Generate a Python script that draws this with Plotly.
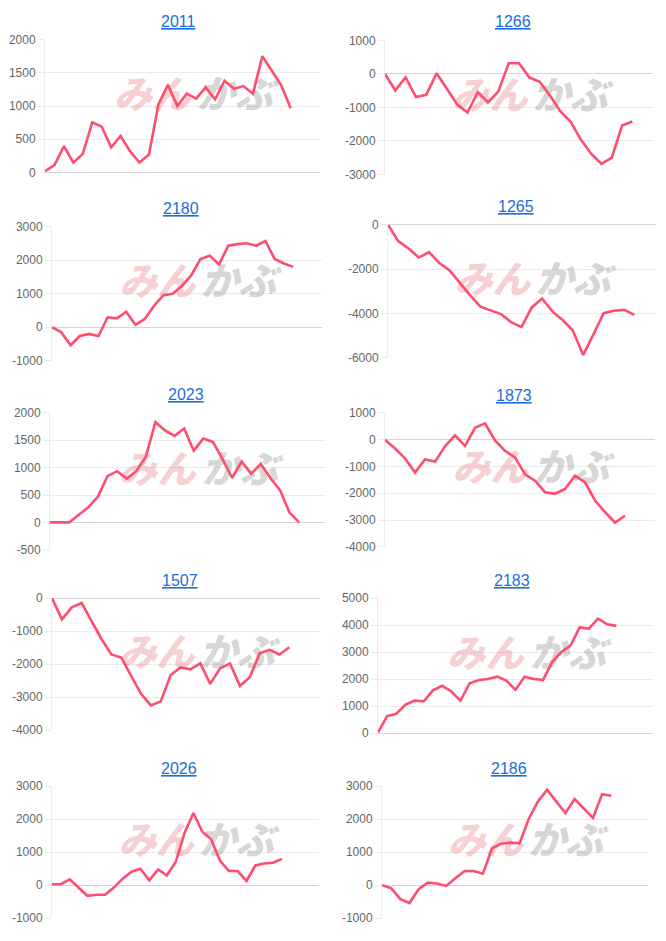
import plotly.graph_objects as go

# ---------------- data ----------------
titles = ["2011", "1266", "2180", "1265", "2023", "1873", "1507", "2183", "2026", "2186"]

s2011 = [20, 110, 395, 150, 280, 755, 690, 380, 550, 320, 150, 270, 1020, 1320, 1000, 1185,
         1110, 1280, 1100, 1380, 1260, 1300, 1185, 1750, 1530, 1310, 965]
s1266 = [0, -490, -100, -690, -620, 20, -440, -910, -1150, -540, -850, -520, 320, 320, -100,
         -230, -640, -1110, -1420, -1960, -2380, -2680, -2500, -1540, -1420]
s2180 = [0, -150, -540, -265, -200, -265, 295, 265, 460, 70, 245, 640, 955, 1000, 1230, 1545,
         2035, 2135, 1870, 2430, 2480, 2505, 2430, 2575, 2035, 1900, 1800]
s1265 = [0, -740, -1070, -1480, -1240, -1730, -2060, -2650, -3190, -3700, -3850, -4030, -4400,
         -4620, -3730, -3330, -3910, -4300, -4770, -5880, -4960, -3990, -3880, -3840, -4070]
s2023 = [0, 0, 0, 140, 275, 470, 845, 935, 800, 935, 1200, 1830, 1680, 1580, 1715, 1310, 1530,
         1470, 1160, 815, 1110, 890, 1070, 810, 590, 180, 0]
s1873 = [0, -330, -700, -1225, -735, -820, -245, 160, -230, 440, 610, -25, -415, -660, -1290,
         -1530, -1960, -2020, -1840, -1350, -1590, -2270, -2700, -3090, -2840]
s1507 = [0, -645, -280, -150, -695, -1240, -1710, -1800, -2360, -2900, -3250, -3130, -2330,
         -2100, -2160, -1980, -2600, -2130, -1980, -2660, -2400, -1670, -1570, -1710, -1490]
s2183 = [25, 630, 715, 1055, 1200, 1180, 1580, 1750, 1540, 1200, 1845, 1965, 2000, 2090, 1940,
         1600, 2090, 2000, 1965, 2630, 3000, 3240, 3910, 3870, 4235, 4030, 3970]
s2026 = [30, 30, 180, -70, -320, -290, -290, -70, 200, 410, 500, 150, 480, 300, 710, 1590, 2190,
         1620, 1390, 750, 430, 430, 130, 600, 660, 680, 800]
s2186 = [0, -90, -420, -540, -120, 80, 50, -20, 210, 430, 430, 350, 1120, 1260, 1290, 1270, 2010,
         2540, 2890, 2540, 2190, 2610, 2310, 2040, 2760, 2710]

series = [s2011, s1266, s2180, s1265, s2023, s1873, s1507, s2183, s2026, s2186]

y_min = [0, -3000, -1000, -6000, -500, -4000, -4000, 0, -1000, -1000]
y_max = [2000, 1000, 3000, 0, 2000, 1000, 0, 5000, 3000, 3000]
y_step = [500, 1000, 1000, 2000, 500, 1000, 1000, 1000, 1000, 1000]

# ---------------- layout (pixels) ----------------
W, H = 666, 941
x_extent = [29.1, 26.0, 29.1, 26.1, 28.7, 27.0, 27.1, 30.0, 30.2, 29.0]
boxes = [(45, 320, 33, 168), (385, 653, 34, 170), (52, 322, 223, 359), (388, 656, 221, 356),
         (50, 325, 412, 551), (385, 655, 412, 548), (52, 320, 600, 734), (378, 653, 600, 737),
         (52, 319, 791, 925), (382, 648, 791, 925)]
title_pos = [(178, 15), (513, 15), (181, 205), (516, 203), (186, 393), (514, 394),
             (180, 582), (512, 582), (179, 773), (509, 773)]

LINE = "#ff4d6d"
GRID = "#ebebeb"
FONT = "Liberation Sans, Arial, sans-serif"
wm_chars = ["み", "ん", "か", "ぶ"]
wm_colors = ["rgba(232,120,128,0.36)", "rgba(232,120,128,0.36)",
             "rgba(140,140,140,0.36)", "rgba(140,140,140,0.36)"]
wm_fx = [0.32, 0.46, 0.62, 0.76]
wm_fy = 0.56

fig = go.Figure()
layout = dict(width=W, height=H, margin=dict(l=0, r=0, t=0, b=0),
              paper_bgcolor="white", plot_bgcolor="white", showlegend=False,
              font=dict(family=FONT), annotations=[])

for i, vals in enumerate(series):
    k = "" if i == 0 else str(i + 1)
    xa, ya = "x" + k, "y" + k
    x0, x1, t0, t1 = boxes[i]
    xs = list(range(len(vals)))
    ext = x_extent[i]
    lo, hi = y_min[i], y_max[i]

    # watermark (drawn first so the line sits above it)
    fig.add_trace(go.Scatter(
        x=[f * ext for f in wm_fx], y=[lo + wm_fy * (hi - lo)] * 4,
        text=wm_chars, mode="text", xaxis=xa, yaxis=ya, hoverinfo="skip",
        textfont=dict(family="Noto Sans CJK JP", size=38, color=wm_colors,
                      weight=900, style="italic")))

    fig.add_trace(go.Scatter(x=xs, y=vals, mode="lines", xaxis=xa, yaxis=ya,
                             line=dict(color=LINE, width=2.6), hoverinfo="skip"))

    tv = list(range(lo, hi + 1, y_step[i]))
    layout["xaxis" + k] = dict(domain=[x0 / W, x1 / W], range=[0, ext], anchor=ya,
                               showgrid=False, zeroline=False, showline=False,
                               showticklabels=False, ticks="", fixedrange=True)
    layout["yaxis" + k] = dict(domain=[1 - t1 / H, 1 - t0 / H], range=[lo, hi], anchor=xa,
                               tickvals=tv, ticktext=[str(v) for v in tv],
                               showgrid=True, gridcolor=GRID, gridwidth=1,
                               zeroline=True, zerolinecolor="#d4d4d4", zerolinewidth=1,
                               showline=True, linecolor=GRID, linewidth=1,
                               ticks="outside", ticklen=6, tickcolor=GRID,
                               tickfont=dict(size=12, color="#666666", family=FONT),
                               fixedrange=True)
    tx, ty = title_pos[i]
    layout["annotations"].append(dict(
        text="<u>" + titles[i] + "</u>", x=tx / W, y=1 - ty / H, xref="paper", yref="paper",
        xanchor="center", yanchor="middle", showarrow=False,
        font=dict(size=16, color="#1a6ed8", family=FONT)))

fig.update_layout(**layout)
fig.write_html("out.html")
